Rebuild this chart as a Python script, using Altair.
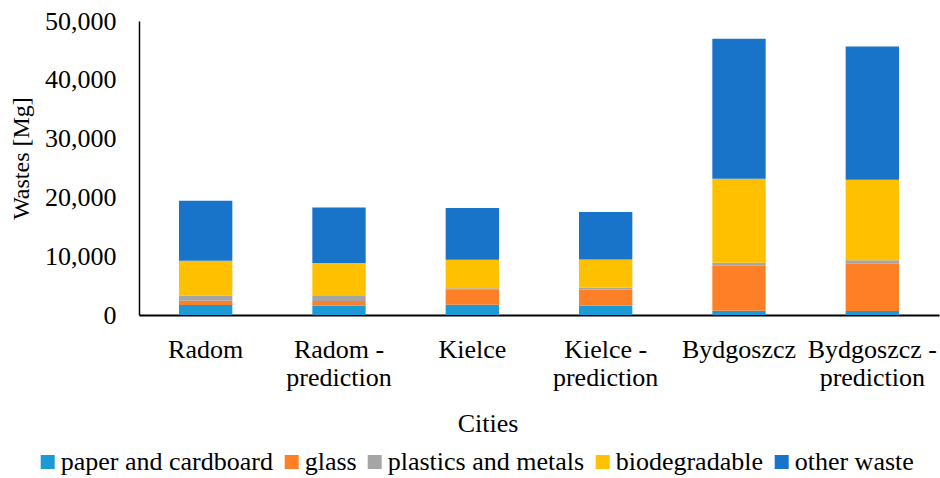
import altair as alt
import pandas as pd

cities = ["Radom", "Radom - prediction", "Kielce", "Kielce - prediction",
          "Bydgoszcz", "Bydgoszcz - prediction"]
categories = ["paper and cardboard", "glass", "plastics and metals",
              "biodegradable", "other waste"]
colors = ["#1C9AD6", "#FF7F27", "#A5A5A5", "#FFC000", "#1874C9"]

# waste streams per city [Mg]
paper = [1700, 1600, 1750, 1600, 730, 690]
glass = [740, 800, 2620, 2720, 7650, 8040]
plastics = [850, 850, 170, 340, 510, 570]
biodegradable = [5950, 5600, 4860, 4760, 14270, 13700]
other = [10200, 9450, 8780, 8100, 23840, 22650]

series = [paper, glass, plastics, biodegradable, other]
rows = []
for k, (cat, vals) in enumerate(zip(categories, series)):
    for city, v in zip(cities, vals):
        rows.append({"city": city, "category": cat, "order": k, "value": v})
df = pd.DataFrame(rows)

font = "Liberation Serif"

# break "X - prediction" into two lines
label_expr = ("indexof(datum.label, ' - ') > 0 ? "
              "[replace(datum.label, ' - prediction', ' -'), 'prediction'] : datum.label")

chart = alt.Chart(df).mark_bar().encode(
    x=alt.X("city:N", sort=cities,
            scale=alt.Scale(paddingInner=0.6, paddingOuter=0.3),
            axis=alt.Axis(title="Cities", labelAngle=0, labelExpr=label_expr,
                          domainWidth=2, labelFontSize=26, labelPadding=21,
                          labelLineHeight=28.5, labelBaseline="top", labelLimit=300,
                          titleFontSize=26, titleX=348.5, titleY=116.7,
                          titleBaseline="alphabetic", titleAnchor="start",
                          titleAlign="center")),
    y=alt.Y("value:Q", stack="zero",
            scale=alt.Scale(domain=[0, 50000], nice=False),
            axis=alt.Axis(title="Wastes [Mg]", format=",d",
                          values=[0, 10000, 20000, 30000, 40000, 50000],
                          grid=False, domainWidth=1.5, labelFontSize=26,
                          labelPadding=23, titleFontSize=24,
                          titleX=-110.7, titleY=137, titleAngle=-90,
                          titleAlign="center", titleBaseline="alphabetic")),
    color=alt.Color("category:N",
                    scale=alt.Scale(domain=categories, range=colors),
                    legend=alt.Legend(title=None, orient="none", direction="horizontal",
                                      columns=5, legendX=-104.3, legendY=428,
                                      symbolType="square", symbolSize=196,
                                      symbolStrokeWidth=0, labelOffset=0,
                                      labelFontSize=26, columnPadding=5)),
    order=alt.Order("order:Q", sort="ascending"),
).properties(
    width=800,
    height=294,
    autosize=alt.AutoSizeParams(type="none"),
    padding={"left": 139, "top": 21, "right": 1, "bottom": 163},
).configure(
    font=font,
).configure_view(
    stroke=None,
).configure_axis(
    labelFont=font, labelColor="black",
    titleFont=font, titleFontWeight="normal", titleColor="black",
    ticks=False, domainColor="black", labelOverlap=False,
).configure_legend(
    labelFont=font, labelColor="black", labelLimit=400,
)

chart.save("out.html", embed_options={"renderer": "svg", "actions": False})
